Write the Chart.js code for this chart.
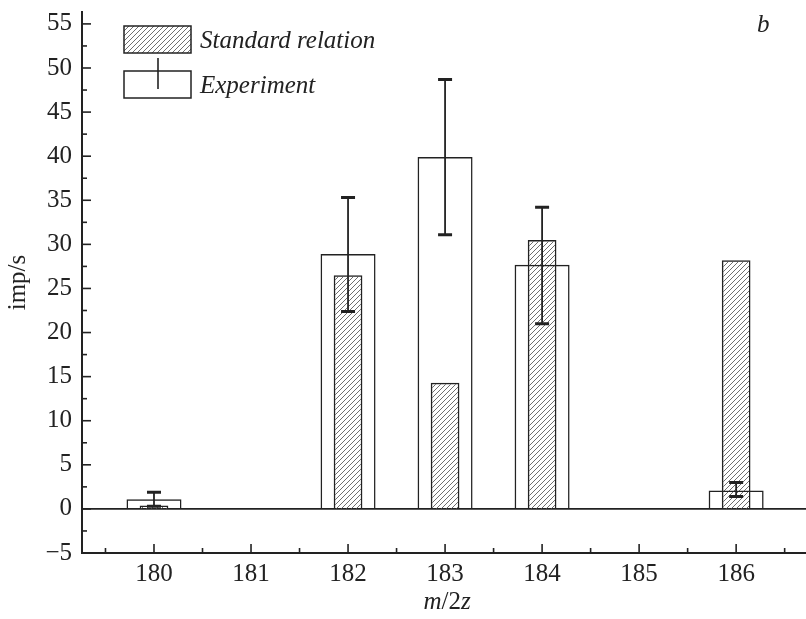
<!DOCTYPE html>
<html><head><meta charset="utf-8">
<style>html,body{margin:0;padding:0;background:#fff;}canvas{display:block;}</style>
<script src="https://cdn.jsdelivr.net/npm/chart.js@4.4.1/dist/chart.umd.min.js"></script>
</head><body>
<canvas id="c" width="806" height="619"></canvas>
<script>
const categories = [180, 182, 183, 184, 186];
const standardRelation = [0.4, 26.5, 14.3, 30.5, 28.2];
const experiment = [1.1, 28.9, 39.9, 27.7, 2.1];
const experimentLow = [0.3, 22.4, 31.1, 21.0, 1.4];
const experimentHigh = [1.9, 35.3, 48.7, 34.2, 3.0];
const xTickLabels = [180, 181, 182, 183, 184, 185, 186];
const yTickLabels = [-5, 0, 5, 10, 15, 20, 25, 30, 35, 40, 45, 50, 55];
const seriesNames = ['Standard relation', 'Experiment'];
const panelLabel = 'b';
const yTitle = 'imp/s';

const INK = '#222';
const FONT = "'Liberation Serif', 'DejaVu Serif', serif";
const canvas = document.getElementById('c');
const ctx = canvas.getContext('2d');

function makeHatch() {
  const s = 5;
  const c = document.createElement('canvas');
  c.width = s; c.height = s;
  const g = c.getContext('2d');
  g.strokeStyle = '#4a4a4a';
  g.lineWidth = 0.8;
  g.beginPath();
  g.moveTo(0, s); g.lineTo(s, 0);
  g.moveTo(-1, 1); g.lineTo(1, -1);
  g.moveTo(s - 1, s + 1); g.lineTo(s + 1, s - 1);
  g.stroke();
  return ctx.createPattern(c, 'repeat');
}
const hatch = makeHatch();

function minorValues(major, min, max) {
  const step = major[1] - major[0];
  const out = [];
  const first = major[0] - step / 2;
  if (first >= min) out.push(first);
  major.forEach(v => { const m = v + step / 2; if (m <= max && m >= min) out.push(m); });
  return out;
}

const decor = {
  id: 'decor',
  beforeDatasetsDraw(chart) {
    const {ctx, chartArea, scales: {y}} = chart;
    const y0 = y.getPixelForValue(0);
    ctx.save();
    ctx.strokeStyle = INK; ctx.lineWidth = 1.6;
    ctx.beginPath(); ctx.moveTo(chartArea.left, y0); ctx.lineTo(chartArea.right, y0); ctx.stroke();
    ctx.restore();
  },
  afterDatasetsDraw(chart) {
    const {ctx, scales: {x, y}} = chart;
    ctx.save();
    ctx.strokeStyle = INK;
    categories.forEach((c, i) => {
      const px = x.getPixelForValue(c);
      const yl = y.getPixelForValue(experimentLow[i]);
      const yh = y.getPixelForValue(experimentHigh[i]);
      ctx.lineWidth = 1.8;
      ctx.beginPath(); ctx.moveTo(px, yl); ctx.lineTo(px, yh); ctx.stroke();
      ctx.lineWidth = 3;
      ctx.beginPath();
      ctx.moveTo(px - 7, yl); ctx.lineTo(px + 7, yl);
      ctx.moveTo(px - 7, yh); ctx.lineTo(px + 7, yh);
      ctx.stroke();
    });
    ctx.restore();
  },
  afterDraw(chart) {
    const {ctx, chartArea, scales: {x, y}} = chart;
    ctx.save();
    ctx.strokeStyle = INK;
    ctx.lineWidth = 1.6;
    // inward ticks, y axis
    yTickLabels.forEach(v => {
      const p = y.getPixelForValue(v);
      ctx.beginPath(); ctx.moveTo(chartArea.left, p); ctx.lineTo(chartArea.left + 9, p); ctx.stroke();
    });
    minorValues(yTickLabels, y.min, y.max).forEach(v => {
      const p = y.getPixelForValue(v);
      ctx.beginPath(); ctx.moveTo(chartArea.left, p); ctx.lineTo(chartArea.left + 5, p); ctx.stroke();
    });
    // inward ticks, x axis
    xTickLabels.forEach(v => {
      const p = x.getPixelForValue(v);
      ctx.beginPath(); ctx.moveTo(p, chartArea.bottom); ctx.lineTo(p, chartArea.bottom - 9); ctx.stroke();
    });
    minorValues(xTickLabels, x.min, x.max).forEach(v => {
      const p = x.getPixelForValue(v);
      ctx.beginPath(); ctx.moveTo(p, chartArea.bottom); ctx.lineTo(p, chartArea.bottom - 5); ctx.stroke();
    });

    // legend
    ctx.lineWidth = 1.5;
    ctx.fillStyle = hatch;
    ctx.fillRect(124, 26, 67, 27);
    ctx.strokeRect(124, 26, 67, 27);
    ctx.strokeRect(124, 71, 67, 27);
    ctx.lineWidth = 1.6;
    ctx.beginPath(); ctx.moveTo(158, 58); ctx.lineTo(158, 89); ctx.stroke();
    ctx.fillStyle = INK;
    ctx.font = 'italic 25px ' + FONT;
    ctx.textBaseline = 'alphabetic';
    ctx.textAlign = 'left';
    ctx.fillText(seriesNames[0], 200, 48);
    ctx.fillText(seriesNames[1], 200, 93);
    // panel label
    ctx.fillText(panelLabel, 757, 32);

    // x axis title  m/2z  (m and z italic)
    const parts = [['m', 'italic 25px '], ['/2', '25px '], ['z', 'italic 25px ']];
    let total = 0;
    parts.forEach(p => { ctx.font = p[1] + FONT; total += ctx.measureText(p[0]).width; });
    let cx = (chartArea.left + chartArea.right) / 2 - total / 2 + 2;
    cx = x.getPixelForValue(183) - total / 2 + 2;
    parts.forEach(p => { ctx.font = p[1] + FONT; ctx.fillText(p[0], cx, 609); cx += ctx.measureText(p[0]).width; });
    ctx.restore();
  }
};

const tickFont = {family: FONT, size: 25, lineHeight: 1.2};
const fmt = v => (v < 0 ? '\u2212' + Math.abs(v) : String(v));

new Chart(ctx, {
  type: 'bar',
  data: {
    datasets: [
      {
        label: seriesNames[0],
        data: categories.map((c, i) => ({x: c, y: standardRelation[i]})),
        backgroundColor: hatch,
        borderColor: INK,
        borderWidth: 1.5,
        barPercentage: 0.296,
        categoryPercentage: 1,
        grouped: false,
        order: 2
      },
      {
        label: seriesNames[1],
        data: categories.map((c, i) => ({x: c, y: experiment[i]})),
        backgroundColor: 'rgba(0,0,0,0)',
        borderColor: INK,
        borderWidth: 1.5,
        barPercentage: 0.567,
        categoryPercentage: 1,
        grouped: false,
        order: 1
      }
    ]
  },
  options: {
    responsive: false,
    animation: false,
    events: [],
    layout: {padding: {top: 12, left: 0, right: 0, bottom: 0}},
    plugins: {legend: {display: false}, tooltip: {enabled: false}},
    scales: {
      x: {
        type: 'linear',
        min: 179.258,
        max: 186.72,
        offset: false,
        grid: {display: false, drawTicks: false},
        border: {display: true, color: INK, width: 2},
        ticks: {font: tickFont, color: INK, padding: 6, includeBounds: false, maxRotation: 0, autoSkip: false, callback: fmt},
        afterBuildTicks: s => { s.ticks = xTickLabels.map(v => ({value: v})); },
        afterFit: s => { s.height = 66; s.paddingLeft = 0; s.paddingRight = 0; }
      },
      y: {
        type: 'linear',
        min: -5,
        max: 56.35,
        grid: {display: false, drawTicks: false},
        border: {display: true, color: INK, width: 2},
        ticks: {font: tickFont, color: INK, padding: 10, includeBounds: false, callback: fmt},
        title: {display: true, text: yTitle, color: INK, font: {family: FONT, size: 25, lineHeight: 1.2}, padding: {top: 3, bottom: 0}},
        afterBuildTicks: s => { s.ticks = yTickLabels.map(v => ({value: v})); },
        afterFit: s => { s.width = 82; s.paddingTop = 0; s.paddingBottom = 0; }
      }
    }
  },
  plugins: [decor]
});
</script>
</body></html>
